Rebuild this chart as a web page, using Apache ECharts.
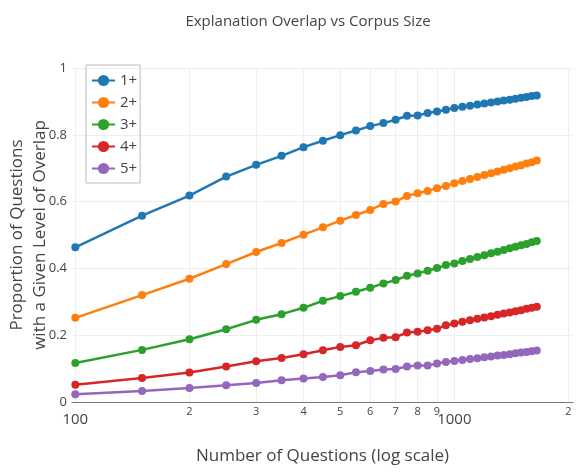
<!DOCTYPE html>
<html>
<head>
<meta charset="utf-8">
<script src="https://cdn.jsdelivr.net/npm/echarts@6/dist/echarts.min.js"></script>
<style>
  html, body { margin: 0; padding: 0; background: #fff; }
  #chart { width: 581px; height: 472px; }
</style>
</head>
<body>
<div id="chart"></div>
<script>
const questions = [100, 150, 200, 250, 300, 350, 400, 450, 500, 550, 600, 650, 700, 750, 800,
  850, 900, 950, 1000, 1050, 1100, 1150, 1200, 1250, 1300, 1350, 1400, 1450, 1500, 1550, 1600, 1650];

const overlap1 = [0.463, 0.558, 0.618, 0.675, 0.710, 0.737, 0.763, 0.782, 0.799, 0.813, 0.826, 0.835,
  0.845, 0.857, 0.858, 0.865, 0.870, 0.875, 0.880, 0.884, 0.887, 0.891, 0.894, 0.897, 0.900, 0.903,
  0.905, 0.908, 0.911, 0.913, 0.916, 0.918];
const overlap2 = [0.252, 0.320, 0.369, 0.413, 0.449, 0.476, 0.501, 0.523, 0.543, 0.560, 0.575, 0.593,
  0.600, 0.617, 0.625, 0.632, 0.640, 0.647, 0.655, 0.662, 0.668, 0.674, 0.680, 0.685, 0.690, 0.695,
  0.700, 0.705, 0.709, 0.714, 0.718, 0.723];
const overlap3 = [0.117, 0.156, 0.188, 0.218, 0.246, 0.263, 0.282, 0.303, 0.317, 0.330, 0.342, 0.355,
  0.365, 0.378, 0.385, 0.393, 0.401, 0.410, 0.415, 0.422, 0.428, 0.434, 0.439, 0.445, 0.450, 0.455,
  0.460, 0.465, 0.469, 0.473, 0.478, 0.482];
const overlap4 = [0.052, 0.072, 0.088, 0.106, 0.122, 0.132, 0.143, 0.155, 0.165, 0.170, 0.185, 0.192,
  0.194, 0.208, 0.210, 0.215, 0.219, 0.230, 0.235, 0.240, 0.245, 0.249, 0.253, 0.257, 0.261, 0.265,
  0.268, 0.272, 0.275, 0.279, 0.282, 0.285];
const overlap5 = [0.023, 0.033, 0.042, 0.050, 0.057, 0.065, 0.070, 0.075, 0.080, 0.089, 0.093, 0.097,
  0.099, 0.106, 0.109, 0.109, 0.115, 0.120, 0.123, 0.126, 0.129, 0.131, 0.134, 0.136, 0.139, 0.141,
  0.143, 0.146, 0.148, 0.150, 0.152, 0.154];

const seriesNames = ['1+', '2+', '3+', '4+', '5+'];
const seriesValues = [overlap1, overlap2, overlap3, overlap4, overlap5];
const colors = ['#1f77b4', '#ff7f0e', '#2ca02c', '#d62728', '#9467bd'];

const xTicks = [100, 200, 300, 400, 500, 600, 700, 800, 900, 1000, 2000];

const chart = echarts.init(document.getElementById('chart'));
const font = '"Open Sans", sans-serif';

chart.setOption({
  animation: false,
  color: colors,
  textStyle: { fontFamily: font, color: '#444' },
  title: {
    text: 'Explanation Overlap vs Corpus Size',
    left: 303, top: 9, textAlign: 'center',
    textStyle: { fontFamily: font, fontSize: 15, fontWeight: 'normal', color: '#444' }
  },
  legend: {
    orient: 'vertical',
    left: 86, top: 65,
    itemWidth: 23, itemHeight: 14, itemGap: 7,
    padding: [8, 3, 7, 5],
    borderColor: '#bbb', borderWidth: 1,
    textStyle: { fontFamily: font, fontSize: 15, color: '#444' }
  },
  grid: { left: 72, right: 8, top: 68, bottom: 70, containLabel: false, outerBoundsMode: 'none' },
  xAxis: {
    type: 'log', logBase: 10, min: 98, max: 2056,
    name: 'Number of Questions (log scale)',
    nameLocation: 'middle', nameGap: 46, nameMoveOverlap: false,
    nameTextStyle: { fontFamily: font, fontSize: 17, color: '#444' },
    axisLine: { show: true, lineStyle: { color: '#777', width: 1 } },
    axisTick: { show: false, customValues: xTicks },
    splitLine: { show: true, lineStyle: { color: '#eee' } },
    axisLabel: {
      customValues: xTicks,
      margin: 4,
      verticalAlign: 'top',
      formatter: function (v) {
        if (v === 100 || v === 1000) return '{big|' + v + '}';
        return '{small|' + String(v)[0] + '}';
      },
      rich: {
        big: { fontFamily: font, fontSize: 15, color: '#444', padding: [6, 0, 0, 0] },
        small: { fontFamily: font, fontSize: 11, color: '#444' }
      }
    }
  },
  yAxis: {
    type: 'value', min: 0, max: 1, interval: 0.2,
    name: 'Proportion of Questions\nwith a Given Level of Overlap',
    nameLocation: 'middle', nameGap: 20, nameRotate: 90, nameMoveOverlap: false,
    nameTextStyle: { fontFamily: font, fontSize: 17, color: '#444', lineHeight: 23 },
    axisLine: { show: false },
    axisTick: { show: false },
    splitLine: { show: true, lineStyle: { color: '#eee' } },
    axisLabel: {
      margin: 5,
      fontFamily: font, fontSize: 13, color: '#444',
      formatter: function (v) { return v === 0 ? '0' : v === 1 ? '1' : String(Math.round(v * 10) / 10); }
    }
  },
  series: seriesNames.map(function (name, i) {
    return {
      name: name,
      type: 'line',
      data: questions.map(function (q, j) { return [q, seriesValues[i][j]]; }),
      symbol: 'circle',
      symbolSize: 8,
      lineStyle: { width: 2.5, color: colors[i] },
      itemStyle: { color: colors[i] }
    };
  })
});
</script>
</body>
</html>
